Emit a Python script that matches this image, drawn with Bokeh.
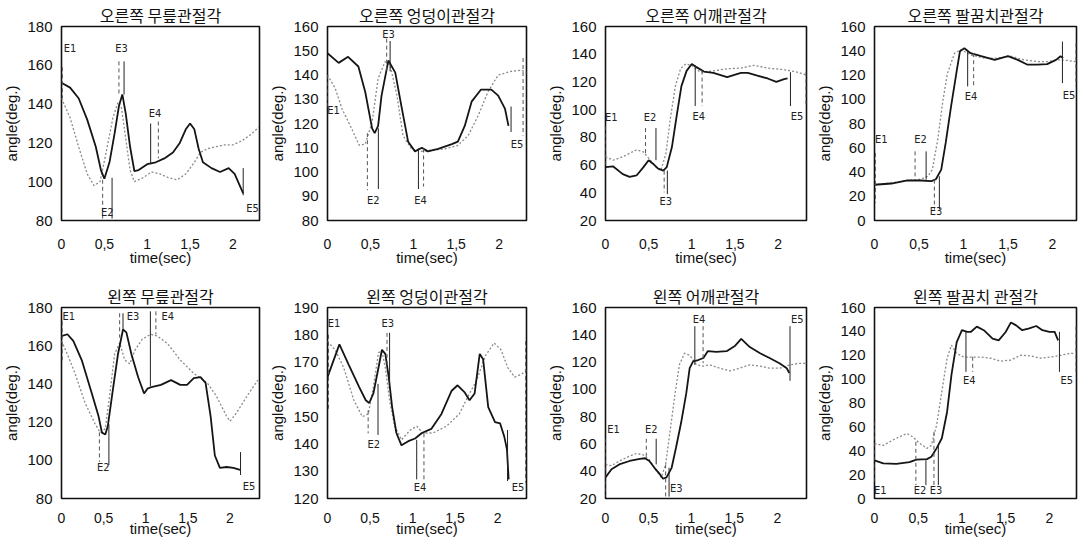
from bokeh.plotting import figure
from bokeh.layouts import column, row
from bokeh.models import Range1d, FixedTicker, CustomJSTickFormatter
from bokeh.core.properties import value
from bokeh.embed import file_html
from bokeh.resources import INLINE

# ---------------- data ----------------
titles = ["오른쪽 무릎관절각", "오른쪽 엉덩이관절각", "오른쪽 어깨관절각", "오른쪽 팔꿈치관절각",
          "왼쪽 무릎관절각", "왼쪽 엉덩이관절각", "왼쪽 어깨관절각", "왼쪽 팔꿈치 관절각"]
x_ticks = [0, 0.5, 1, 1.5, 2]
y_ticks = [list(range(80, 181, 20)), list(range(80, 161, 10)), list(range(20, 161, 20)), list(range(0, 161, 20)),
           list(range(80, 181, 20)), list(range(120, 191, 10)), list(range(20, 161, 20)), list(range(0, 161, 20))]
x_max = [2.31, 2.32, 2.33, 2.27, 2.35, 2.34, 2.34, 2.31]

p1_solid_t = [0, 0.1, 0.2, 0.3, 0.4, 0.46, 0.5, 0.56, 0.62, 0.67, 0.71, 0.75, 0.8, 0.85, 0.9, 1.0, 1.1, 1.2, 1.3, 1.38, 1.45, 1.5, 1.55, 1.6, 1.65, 1.75, 1.85, 1.95, 2.02, 2.08, 2.12]
p1_solid_v = [151, 148.5, 143, 132, 118, 106, 101.5, 110, 125, 139, 145, 135, 118, 105.5, 106, 109, 110, 112, 115, 120, 127, 130, 127, 117, 110, 107, 105, 107, 104, 98, 94]
p1_dot_t = [0, 0.1, 0.2, 0.3, 0.38, 0.45, 0.52, 0.6, 0.66, 0.7, 0.75, 0.8, 0.85, 0.95, 1.05, 1.15, 1.25, 1.35, 1.45, 1.55, 1.62, 1.7, 1.8, 1.9, 2.0, 2.1, 2.2, 2.3]
p1_dot_v = [143, 133, 118, 104, 98, 100, 115, 133, 141, 138, 122, 106, 100, 102, 105, 104, 102, 101, 104, 110, 115, 117, 118, 119, 119, 121, 124, 128]

p2_solid_t = [0, 0.13, 0.24, 0.36, 0.44, 0.52, 0.55, 0.59, 0.63, 0.71, 0.79, 0.86, 0.94, 1.02, 1.1, 1.17, 1.29, 1.45, 1.52, 1.6, 1.68, 1.79, 1.91, 1.99, 2.07, 2.11]
p2_solid_v = [149, 145, 147.5, 143.5, 133, 118, 116, 119, 131.5, 146, 141, 127.5, 112.5, 108.5, 110, 108.5, 109.5, 111.5, 112.5, 119, 129, 134, 134, 131.5, 126, 119]
p2_dot_t = [0, 0.09, 0.17, 0.28, 0.37, 0.44, 0.52, 0.59, 0.67, 0.73, 0.81, 0.88, 0.98, 1.1, 1.21, 1.37, 1.52, 1.64, 1.76, 1.87, 1.99, 2.14, 2.26, 2.32]
p2_dot_v = [140, 134.5, 126, 118, 111, 111.5, 120.5, 138.5, 145.5, 144, 131.5, 115, 109.5, 108.5, 109, 109.5, 111, 115, 123.5, 133, 140, 141.5, 142, 141]

p3_solid_t = [0, 0.09, 0.2, 0.28, 0.36, 0.44, 0.5, 0.55, 0.61, 0.67, 0.71, 0.77, 0.83, 0.88, 0.94, 1.0, 1.06, 1.14, 1.25, 1.41, 1.57, 1.65, 1.76, 1.88, 1.98, 2.07, 2.11]
p3_solid_v = [58.5, 59, 53.5, 51.5, 52.5, 58.5, 63.5, 61, 57.5, 56, 58.5, 73, 97.5, 117, 128, 133, 130.5, 127.5, 126.5, 123.5, 126.5, 126.5, 124.5, 122.5, 120, 122, 122.5]
p3_dot_t = [0, 0.09, 0.2, 0.36, 0.44, 0.52, 0.6, 0.64, 0.7, 0.75, 0.81, 0.87, 0.93, 1.0, 1.1, 1.25, 1.41, 1.57, 1.72, 1.88, 2.04, 2.2, 2.33]
p3_dot_v = [66, 63.5, 66, 71, 69.5, 63.5, 57.5, 56, 68, 93, 117, 129.5, 133, 132, 127, 128, 129.5, 130, 132, 130, 129, 127.5, 125]

p4_solid_t = [0, 0.19, 0.37, 0.52, 0.64, 0.69, 0.75, 0.8, 0.86, 0.92, 0.96, 1.01, 1.08, 1.2, 1.35, 1.5, 1.61, 1.72, 1.83, 1.94, 2.04, 2.09, 2.12]
p4_solid_v = [29.5, 30.5, 33, 33, 32.5, 34, 42, 64, 94, 121.5, 139.5, 142, 138, 135.5, 132.5, 135.5, 132.5, 128.5, 128.5, 129, 132.5, 135.5, 134]
p4_dot_t = [0, 0.19, 0.37, 0.52, 0.6, 0.65, 0.71, 0.77, 0.82, 0.9, 0.97, 1.08, 1.23, 1.38, 1.53, 1.68, 1.83, 1.94, 2.06, 2.17, 2.26]
p4_dot_v = [29.5, 31, 33, 34, 36.5, 42, 66.5, 99.5, 121.5, 138, 141, 136.5, 134, 134, 135.5, 132.5, 131, 131, 132.5, 132, 131]

p5_solid_t = [0, 0.07, 0.14, 0.24, 0.36, 0.44, 0.48, 0.52, 0.55, 0.61, 0.67, 0.73, 0.77, 0.83, 0.91, 0.98, 1.02, 1.08, 1.18, 1.3, 1.41, 1.49, 1.57, 1.65, 1.71, 1.77, 1.82, 1.88, 1.96, 2.04, 2.12]
p5_solid_v = [165, 166, 162.5, 152.5, 135, 123, 114.5, 113.5, 118, 137, 155.5, 168.5, 167, 155.5, 143.5, 135, 137.5, 138.5, 139.5, 142, 139.5, 139.5, 143, 143.5, 140.5, 123, 102.5, 96, 96.5, 96, 95]
p5_dot_t = [0, 0.07, 0.16, 0.28, 0.4, 0.46, 0.52, 0.57, 0.63, 0.69, 0.75, 0.81, 0.87, 0.96, 1.06, 1.14, 1.26, 1.41, 1.57, 1.73, 1.84, 1.96, 2.0, 2.08, 2.2, 2.33]
p5_dot_v = [162.5, 155.5, 145.5, 130, 119, 114.5, 116.5, 133.5, 155.5, 161.5, 152.5, 150.5, 157.5, 163.5, 166, 165, 161, 152.5, 145.5, 140.5, 133.5, 123, 120.5, 125, 133.5, 142]

p6_solid_t = [0, 0.14, 0.25, 0.37, 0.45, 0.49, 0.54, 0.6, 0.64, 0.68, 0.72, 0.76, 0.81, 0.87, 0.95, 1.03, 1.11, 1.22, 1.34, 1.46, 1.53, 1.61, 1.67, 1.73, 1.79, 1.83, 1.89, 1.97, 2.03, 2.08, 2.11, 2.13]
p6_solid_v = [164.5, 176.5, 169, 161, 156, 155, 158.5, 168, 174.5, 173, 164.5, 153.5, 144, 139.5, 141, 142, 144, 145.5, 151, 159.5, 161.5, 159, 156, 158.5, 173, 171, 153.5, 148, 147.5, 142.5, 138, 127]
p6_dot_t = [0, 0.09, 0.19, 0.31, 0.41, 0.48, 0.54, 0.6, 0.64, 0.68, 0.73, 0.79, 0.87, 0.97, 1.05, 1.12, 1.24, 1.4, 1.55, 1.67, 1.75, 1.86, 1.96, 2.04, 2.12, 2.2, 2.28, 2.34]
p6_dot_v = [177.5, 174.5, 168, 156, 150, 151, 161, 173.5, 174, 168, 156, 146.5, 141.5, 145, 146.5, 144, 144, 146.5, 151, 158.5, 163, 172.5, 177, 174.5, 168, 164.5, 165.5, 167]

p7_solid_t = [0, 0.07, 0.16, 0.28, 0.4, 0.46, 0.51, 0.57, 0.63, 0.67, 0.71, 0.77, 0.82, 0.88, 0.94, 0.98, 1.02, 1.08, 1.14, 1.19, 1.29, 1.41, 1.51, 1.58, 1.68, 1.8, 1.91, 2.03, 2.11, 2.14]
p7_solid_v = [35.5, 41.5, 45, 47.5, 49, 49.5, 47.5, 42.5, 38, 34.5, 35.5, 42.5, 57, 75.5, 97, 115.5, 120.5, 121.5, 123, 128, 127.5, 128, 132, 137, 131, 126.5, 123, 119, 115.5, 112]
p7_dot_t = [0, 0.07, 0.16, 0.28, 0.36, 0.44, 0.51, 0.59, 0.65, 0.7, 0.75, 0.81, 0.86, 0.92, 0.98, 1.06, 1.14, 1.21, 1.33, 1.45, 1.56, 1.68, 1.8, 1.91, 2.03, 2.15, 2.25, 2.34]
p7_dot_v = [45, 44, 47.5, 51, 53, 52, 48.5, 40.5, 35.5, 45, 68.5, 97, 118, 126.5, 125, 118, 117, 118, 115.5, 113.5, 115.5, 118, 117, 115.5, 115.5, 118, 119, 119]

p8_solid_t = [0, 0.1, 0.25, 0.4, 0.48, 0.6, 0.65, 0.71, 0.77, 0.83, 0.88, 0.94, 1.0, 1.06, 1.1, 1.17, 1.25, 1.35, 1.42, 1.5, 1.56, 1.62, 1.69, 1.77, 1.85, 1.92, 2.0, 2.06, 2.1]
p8_solid_v = [32, 29.5, 29, 30.5, 32.5, 33, 35, 42, 50.5, 72.5, 103.5, 131, 141, 139.5, 139.5, 144, 141, 134, 132.5, 139.5, 147.5, 145, 141, 142.5, 144.5, 141, 139.5, 139.5, 132.5]
p8_dot_t = [0, 0.1, 0.21, 0.37, 0.44, 0.52, 0.6, 0.65, 0.71, 0.77, 0.83, 0.88, 0.94, 1.02, 1.1, 1.21, 1.33, 1.44, 1.56, 1.67, 1.79, 1.9, 2.02, 2.13, 2.23, 2.31]
p8_dot_v = [46, 44.5, 49, 54.5, 51.5, 46, 42, 44.5, 61.5, 89.5, 117.5, 128.5, 121.5, 118.5, 118.5, 118.5, 117.5, 115, 116, 120, 119.5, 117.5, 118.5, 120, 121.5, 121.5]

# events: (label, label_t, label_v, solid marker (t, v_top, v_bottom), dotted marker (t, v_top, v_bottom))
p1_events = [("E1", 0.10, 168.5, None, (0.01, 159, 143)),
             ("E2", 0.535, 84, (0.59, 102, 81), (0.48, 101, 81)),
             ("E3", 0.70, 168.5, (0.73, 162, 145), (0.67, 162, 144)),
             ("E4", 1.09, 135, (1.04, 130, 109), (1.13, 131, 112)),
             ("E5", 2.23, 86, (2.12, 107, 93), None)]
p2_events = [("E1", 0.07, 125.5, None, (0.0, 140, 127)),
             ("E2", 0.535, 88.3, (0.593, 118, 93), (0.465, 116, 92.5)),
             ("E3", 0.71, 156.6, (0.73, 154, 141.5), (0.69, 155, 141.5)),
             ("E4", 1.085, 88.3, (1.06, 109.7, 93), (1.12, 109.7, 94)),
             ("E5", 2.21, 111.3, (2.14, 127, 116.5), (2.28, 147, 115))]
p3_events = [("E1", 0.066, 94, None, (0.0, 88, 60)),
             ("E2", 0.515, 94, (0.585, 86.7, 63.5), (0.464, 86.7, 68.4)),
             ("E3", 0.70, 34, (0.717, 56, 39), (0.68, 56, 40.3)),
             ("E4", 1.08, 95.3, (1.04, 132, 102.6), (1.12, 128.2, 102.6)),
             ("E5", 2.22, 95.3, (2.144, 127, 102.6), (2.325, 127, 102.6))]
p4_events = [("E1", 0.075, 66.7, None, (0.01, 55.7, 14.6)),
             ("E2", 0.516, 66.7, (0.58, 57, 33.8), (0.456, 57, 33.8)),
             ("E3", 0.69, 7.7, (0.729, 36.5, 9), (0.673, 33.8, 9)),
             ("E4", 1.084, 102.4, (1.047, 139.4, 110.6), (1.114, 138, 110.6)),
             ("E5", 2.187, 102.9, (2.112, 147.6, 113.3), (2.265, 146.3, 110.6))]
p5_events = [("E1", 0.086, 175.4, None, (0.008, 172.8, 152.3)),
             ("E2", 0.496, 96.1, (0.5625, 118.9, 97.5), (0.45, 114.6, 99.2)),
             ("E3", 0.85, 175.4, (0.73, 177, 168.5), (0.69, 177, 164.2)),
             ("E4", 1.26, 175.4, (1.055, 178, 138.6), (1.12, 178, 166)),
             ("E5", 2.227, 86.3, (2.125, 104.3, 92.3), None)]
p6_events = [("E1", 0.078, 184, None, (0.012, 180, 152.3)),
             ("E2", 0.544, 139.7, (0.594, 162, 143.3), (0.478, 152.3, 143.9)),
             ("E3", 0.71, 184, (0.73, 180.7, 162), (0.70, 180.7, 168)),
             ("E4", 1.087, 124, (1.049, 141.5, 127), (1.134, 143.9, 127)),
             ("E5", 2.24, 124, (2.117, 145.1, 126.4), (2.33, 177.7, 125.8))]
p7_events = [("E1", 0.093, 70.9, None, (0.0, 63.8, 21.4)),
             ("E2", 0.533, 70.9, (0.59, 63.8, 45), (0.475, 63.8, 49.7)),
             ("E3", 0.825, 27.3, (0.74, 42.6, 21.4), (0.70, 45, 21.4)),
             ("E4", 1.09, 151.5, (1.04, 146.3, 118), (1.136, 146.3, 119.2)),
             ("E5", 2.233, 151.5, (2.148, 146.3, 106.3), None)]
p8_events = [("E1", 0.065, 7, None, (0.0, 64.2, 11.2)),
             ("E2", 0.52, 7, (0.588, 32.1, 11.2), (0.473, 47.5, 11.2)),
             ("E3", 0.704, 7, (0.73, 44.7, 11.2), (0.68, 55.8, 11.2)),
             ("E4", 1.085, 99.1, (1.046, 139.6, 106.1), (1.123, 118.7, 106.1)),
             ("E5", 2.2, 99.1, (2.115, 139.6, 106.1), (2.305, 143.8, 106.1))]

series = [(p1_solid_t, p1_solid_v, p1_dot_t, p1_dot_v, p1_events),
          (p2_solid_t, p2_solid_v, p2_dot_t, p2_dot_v, p2_events),
          (p3_solid_t, p3_solid_v, p3_dot_t, p3_dot_v, p3_events),
          (p4_solid_t, p4_solid_v, p4_dot_t, p4_dot_v, p4_events),
          (p5_solid_t, p5_solid_v, p5_dot_t, p5_dot_v, p5_events),
          (p6_solid_t, p6_solid_v, p6_dot_t, p6_dot_v, p6_events),
          (p7_solid_t, p7_solid_v, p7_dot_t, p7_dot_v, p7_events),
          (p8_solid_t, p8_solid_v, p8_dot_t, p8_dot_v, p8_events)]

# ---------------- layout (frame sizes / borders) ----------------
frame_w = [198, 199, 201, 202]
side_borders = [(57, 7), (56, 15), (64, 5), (63, 2)]       # left, right per column
row_frame_h = [194, 191]
row_borders = [(24, 49), (38, 42)]                           # top, bottom per row
x_label_standoff = [(18, -3), (14, -6)]                      # tick standoff, axis label standoff per row

TICK_FONT = "Liberation Sans"
LAB_FONT = "DejaVu Sans Condensed"

def make_panel(i):
    st, sv, dt, dv, events = series[i]
    c, r = i % 4, i // 4
    bl, br = side_borders[c]
    bt, bb = row_borders[r]
    yt = y_ticks[i]
    p = figure(frame_width=frame_w[c], frame_height=row_frame_h[r],
               x_range=Range1d(0, x_max[i]), y_range=Range1d(yt[0], yt[-1]),
               output_backend="svg", toolbar_location=None,
               min_border_left=bl, min_border_right=br, min_border_top=bt, min_border_bottom=bb,
               title=titles[i])
    p.title.text_font = "Noto Sans CJK KR"
    p.title.text_font_size = "16px"
    p.title.text_font_style = "normal"
    p.title.align = "center"
    p.title.standoff = 0
    p.title.text_color = "#111111"
    p.xgrid.visible = False
    p.ygrid.visible = False
    p.outline_line_color = "#111111"
    p.outline_line_width = 1.6
    p.background_fill_color = "white"
    p.border_fill_color = "white"

    p.xaxis.ticker = FixedTicker(ticks=x_ticks)
    p.xaxis.formatter = CustomJSTickFormatter(code="return String(tick).replace('.', ',');")
    p.xaxis.axis_label = "time(sec)"
    p.yaxis.ticker = FixedTicker(ticks=yt)
    p.yaxis.axis_label = "angle(deg.)"
    for ax in (p.xaxis, p.yaxis):
        ax.axis_line_color = None
        ax.major_tick_line_color = None
        ax.minor_tick_line_color = None
        ax.major_tick_out = 0
        ax.major_tick_in = 0
        ax.major_label_text_font = TICK_FONT
        ax.major_label_text_color = "#111111"
        ax.axis_label_text_font = TICK_FONT
        ax.axis_label_text_font_style = "normal"
        ax.axis_label_text_color = "#111111"
        ax.axis_label_text_font_size = "15px"
    p.xaxis.major_label_text_font_size = "14px"
    p.xaxis.major_label_standoff = x_label_standoff[r][0]
    p.xaxis.axis_label_standoff = x_label_standoff[r][1]
    p.yaxis.major_label_text_font_size = "15px"
    p.yaxis.major_label_standoff = 9
    p.yaxis.axis_label_standoff = 4

    # curves
    p.line(dt, dv, line_color="#8a8a8a", line_width=1.3, line_dash="2 2")
    p.line(st, sv, line_color="#151515", line_width=1.8)

    # event markers
    sx, sy0, sy1, dx, dy0, dy1 = [], [], [], [], [], []
    lx, ly, lt = [], [], []
    for lab, tx, ty, sm, dm in events:
        lx.append(tx); ly.append(ty); lt.append(lab)
        if sm is not None:
            sx.append(sm[0]); sy0.append(sm[1]); sy1.append(sm[2])
        if dm is not None:
            dx.append(dm[0]); dy0.append(dm[1]); dy1.append(dm[2])
    p.segment(x0=dx, y0=dy0, x1=dx, y1=dy1, line_color="#555555", line_width=1, line_dash="4 3")
    p.segment(x0=sx, y0=sy0, x1=sx, y1=sy1, line_color="#222222", line_width=1)
    p.text(x=lx, y=ly, text=lt, text_font=value(LAB_FONT), text_font_size="11px",
           text_align="center", text_baseline="middle", text_color="#222222")
    return p

panels = [make_panel(i) for i in range(8)]
layout = column(row(*panels[:4]), row(*panels[4:]))

open("out.html", "w").write(file_html(layout, INLINE))
